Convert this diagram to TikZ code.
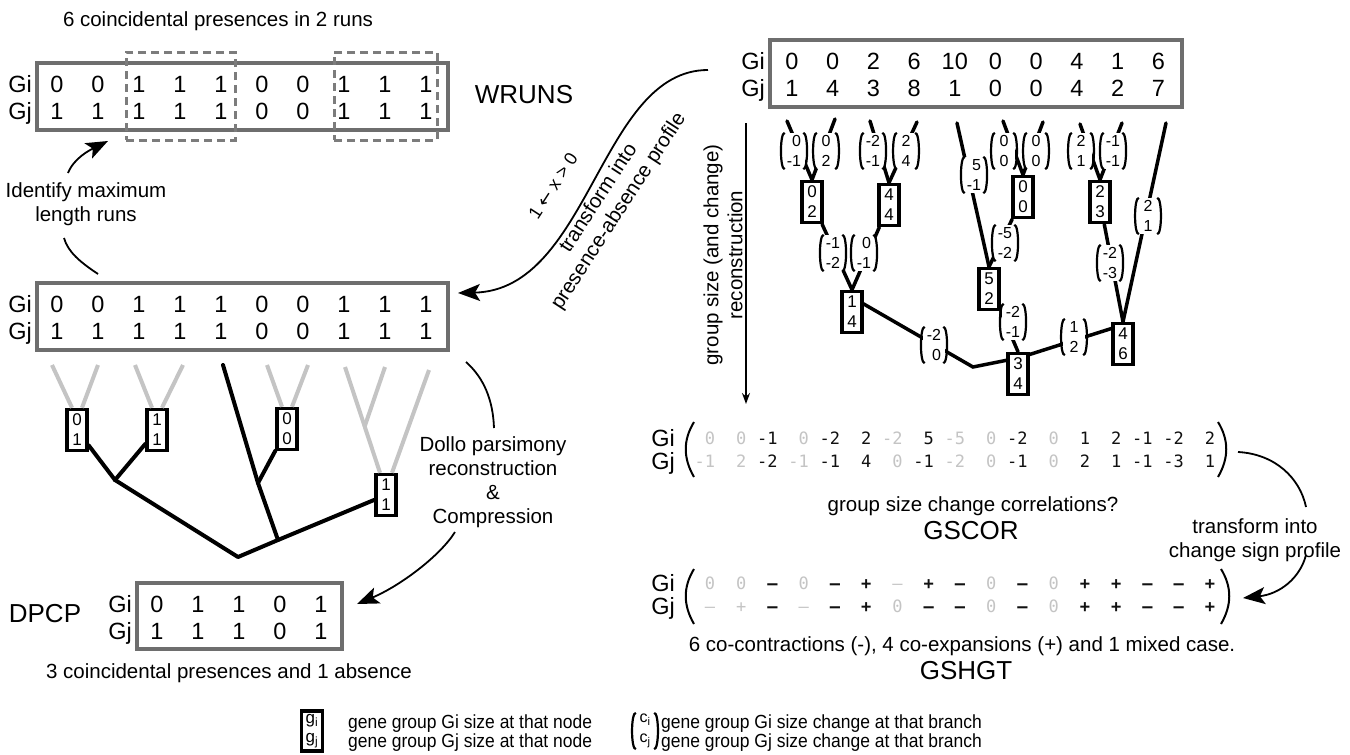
\documentclass[tikz,border=0pt]{standalone}
\usepackage{fontspec}
\setmainfont{Liberation Sans}
\newfontfamily\monof{DejaVu Sans Mono}
\newfontfamily\dejavu{DejaVu Sans}
\newfontfamily\narrowf[FakeStretch=0.92]{Liberation Sans}
\usetikzlibrary{arrows.meta}
\definecolor{boxgray}{HTML}{6E6E6E}
\definecolor{dashgray}{HTML}{7C7C7C}
\definecolor{lgray}{HTML}{C4C4C4}
\definecolor{cg}{HTML}{C4C4C4}
\definecolor{ck}{HTML}{111111}
\newcommand\fs[2]{\fontsize{#1}{#2}\selectfont}
\tikzset{
  tbox/.style={draw=boxgray, line width=3.5pt, inner sep=0pt},
  dbox/.style={draw=dashgray, line width=3pt, dash pattern=on 8pt off 5pt, inner sep=0pt},
  num/.style={font=\fs{23.5}{28}, inner sep=0pt},
  lab/.style={font=\fs{23.5}{28}, inner sep=0pt, anchor=base east},
  txt/.style={font=\fs{20.5}{24}, inner sep=0pt, align=center},
  bigt/.style={font=\fs{26}{30}, inner sep=0pt},
  nbox/.style={draw, line width=3.5pt, fill=white, minimum width=20pt, minimum height=41pt, inner sep=0pt, font=\fs{17}{20}, align=center},
  cv/.style={fill=white, inner xsep=4pt, inner ysep=1pt, minimum width=22pt, minimum height=36pt, font=\fs{16}{20}, align=right},
  pline/.style={line width=2.2pt},
  tblk/.style={line width=4pt, line cap=round, line join=round},
  tgr/.style={line width=4pt, draw=lgray},
  rbr/.style={line width=3.5pt, line cap=round},
  arr/.style={line width=1.8pt, -{Stealth[length=22pt,width=17pt,inset=5pt]}},
  arcl/.style={line width=1.8pt},
  mono/.style={font=\monof\fs{17}{20}, inner sep=0pt},
  legt/.style={font=\narrowf\fs{19}{22}, inner sep=0pt, anchor=base west},
}
\newcommand\cvec[3]{%
  \node[cv] (#1) at (#2) {#3};
  \draw[pline] ([xshift=2pt]#1.north west) .. controls ([xshift=-3pt]#1.north west) and ([xshift=-3pt]#1.south west) .. ([xshift=2pt]#1.south west);
  \draw[pline] ([xshift=-2pt]#1.north east) .. controls ([xshift=3pt]#1.north east) and ([xshift=3pt]#1.south east) .. ([xshift=-2pt]#1.south east);
}
\newcommand\bm[1]{\textbf{#1}}
\begin{document}
\begin{tikzpicture}[x=1pt,y=-1pt]
\path[use as bounding box, fill=white] (0,0) rectangle (1350,755);

% ---------------- WRUNS ----------------
\node[txt] (t1) at (218,21) {6 coincidental presences in 2 runs};
\node[tbox, minimum width=411pt, minimum height=67pt] (wr) at (242.5,96.5) {};
\node[dbox, minimum width=109pt, minimum height=88pt] (run1) at (180.5,96) {};
\node[dbox, minimum width=103pt, minimum height=88pt] (run2) at (385.5,96) {};
\node[lab] (wgi) at (32,92.4) {Gi};
\node[lab] (wgj) at (32,119.4) {Gj};
\foreach \v [count=\i from 0] in {0,0,1,1,1,0,0,1,1,1}
  \node[num] (wa\i) at ({57+41*\i},84) {\v};
\foreach \v [count=\i from 0] in {1,1,1,1,1,0,0,1,1,1}
  \node[num] (wb\i) at ({57+41*\i},111) {\v};
\node[bigt] (wruns) at (524,95) {WRUNS};

% ---------------- presence/absence ----------------
\node[tbox, minimum width=411pt, minimum height=67pt] (pa) at (242.5,316.5) {};
\node[lab] (pgi) at (32,312.4) {Gi};
\node[lab] (pgj) at (32,339.4) {Gj};
\foreach \v [count=\i from 0] in {0,0,1,1,1,0,0,1,1,1}
  \node[num] (pa\i) at ({57+41*\i},304) {\v};
\foreach \v [count=\i from 0] in {1,1,1,1,1,0,0,1,1,1}
  \node[num] (pb\i) at ({57+41*\i},331) {\v};

% identify arrow
\node[txt] (idt) at (86,204) {Identify maximum\\length runs};
\coordinate (ia) at (98,274); \coordinate (ib) at (64,238);
\coordinate (ic) at (68,173); \coordinate (id) at (108,141);
\draw[arcl] (ia) .. controls (80,262) and (68,252) .. (ib);
\draw[arr] (ic) .. controls (74,158) and (90,150) .. (id);

% S-curve from right table
\coordinate (sa) at (708,70); \coordinate (sb) at (458,293);
\draw[arr] (sa) .. controls (600,70) and (590,290) .. (sb);
\node[font=\fs{20.5}{24}, align=center, rotate=57, inner sep=0pt] (trpa) at (609,205) {transform into\\presence-absence profile};
\node[font=\fs{18}{20}, rotate=57, inner sep=0pt] (xgt) at (553,186) {1 {\dejavu ←} x > 0};

% ---------------- left tree ----------------
\node[nbox] (A) at (77,430) {0\\1};
\node[nbox] (B) at (157,430) {1\\1};
\node[nbox] (C) at (287,429) {0\\0};
\node[nbox] (D) at (386,495) {1\\1};
\coordinate (la1) at (52,365); \coordinate (la2) at (98,365);
\coordinate (lb1) at (135,365); \coordinate (lb2) at (183,365);
\coordinate (lc1) at (267,365); \coordinate (lc2) at (308,365);
\coordinate (ld1) at (345,367); \coordinate (ld2) at (429,370); \coordinate (ld3) at (385,367);
\coordinate (ldj) at (364.5,427);
\coordinate (lbl) at (223,365);
\coordinate (ab) at (115,480); \coordinate (ff) at (258,483);
\coordinate (ee) at (278,540); \coordinate (lroot) at (238,557);
\draw[tgr] (la1) -- ([xshift=-5pt]A.north);
\draw[tgr] (la2) -- ([xshift=5pt]A.north);
\draw[tgr] (lb1) -- ([xshift=-5pt]B.north);
\draw[tgr] (lb2) -- ([xshift=5pt]B.north);
\draw[tgr] (lc1) -- ([xshift=-5pt]C.north);
\draw[tgr] (lc2) -- ([xshift=5pt]C.north);
\draw[tgr] (ld1) -- ([xshift=-6pt]D.north);
\draw[tgr] (ld2) -- ([xshift=6pt]D.north);
\draw[tgr] (ld3) -- (ldj);
\draw[tblk] (A) -- (ab);
\draw[tblk] (B) -- (ab);
\draw[tblk] (ab) -- (lroot) -- (ee) -- (D);
\draw[tblk] (lbl) -- (ff) -- (ee);
\draw[tblk] (C) -- (ff);

\node[txt] (dollo) at (493,482) {Dollo parsimony\\reconstruction\\\&\\Compression};
\coordinate (da) at (466,362); \coordinate (db) at (494,428);
\draw[arcl] (da) .. controls (484,378) and (493,400) .. (db);
\coordinate (dc) at (455,532); \coordinate (dd) at (357,604);
\draw[arr] (dc) .. controls (440,556) and (400,586) .. (dd);

% ---------------- DPCP ----------------
\node[bigt] (dpcp) at (45,614) {DPCP};
\node[tbox, minimum width=205pt, minimum height=66pt] (dp) at (239.5,616) {};
\node[lab] (dgi) at (132,612.4) {Gi};
\node[lab] (dgj) at (132,639.4) {Gj};
\foreach \v [count=\i from 0] in {0,1,1,0,1}
  \node[num] (da\i) at ({157+41*\i},604) {\v};
\foreach \v [count=\i from 0] in {1,1,1,0,1}
  \node[num] (db\i) at ({157+41*\i},631) {\v};
\node[txt] (dcap) at (229,673) {3 coincidental presences and 1 absence};

% ---------------- right table ----------------
\node[tbox, minimum width=412pt, minimum height=67pt] (rt) at (976,73.5) {};
\node[lab] (rgi) at (765,69.4) {Gi};
\node[lab] (rgj) at (765,96.4) {Gj};
\foreach \v [count=\i from 0] in {0,0,2,6,10,0,0,4,1,6}
  \node[num] (ra\i) at ({792+40.7*\i},61) {\v};
\foreach \v [count=\i from 0] in {1,4,3,8,1,0,0,4,2,7}
  \node[num] (rb\i) at ({792+40.7*\i},88) {\v};

% vertical arrow
\coordinate (va) at (746,123); \coordinate (vb) at (746,404);
\draw[line width=1.6pt, -{Stealth[length=11pt,width=8pt]}] (va) -- (vb);
\node[txt, rotate=90] (gsr) at (723,255) {group size (and change)\\reconstruction};

% ---------------- right tree ----------------
\node[nbox] (N1) at (812,202) {0\\2};
\node[nbox] (N2) at (889,205) {4\\4};
\node[nbox] (N3) at (1023,197) {0\\0};
\node[nbox] (N4) at (1100,202) {2\\3};
\node[nbox] (N5) at (852,312) {1\\4};
\node[nbox] (N6) at (989,289) {5\\2};
\node[nbox] (N7) at (1018,374) {3\\4};
\node[nbox] (N8) at (1123,344) {4\\6};
\coordinate (L1) at (787,121); \coordinate (L2) at (835,119);
\coordinate (L3) at (870,121); \coordinate (L4) at (917,122);
\coordinate (L5) at (957,123); \coordinate (L6) at (1003,121);
\coordinate (L7) at (1043,122); \coordinate (L8) at (1080,124);
\coordinate (L9) at (1122,123); \coordinate (L10) at (1166,123);
\coordinate (rroot) at (973,367);
\coordinate (n5o) at (862,303); \coordinate (n7w) at (1008,360);
\coordinate (n7o) at (1028,355); \coordinate (n8i) at (1113,328);
\draw[rbr] (L1) -- (N1.north);
\draw[rbr] (L2) -- (N1.north);
\draw[rbr] (L3) -- (N2.north);
\draw[rbr] (L4) -- (N2.north);
\draw[rbr] (L5) -- (N6.north);
\draw[rbr] (L6) -- (N3.north);
\draw[rbr] (L7) -- (N3.north);
\draw[rbr] (L8) -- (N4.north);
\draw[rbr] (L9) -- (N4.north);
\draw[rbr] (L10) -- (N8.north);
\draw[rbr] (N1) -- (N5.north);
\draw[rbr] (N2) -- (N5.north);
\draw[rbr] (N3) -- (N6.north);
\draw[rbr] (N4) -- (N8.north);
\draw[rbr] (N6.south east) -- (N7.north);
\draw[rbr] (n5o) -- (rroot) -- (n7w);
\draw[rbr] (n7o) -- (n8i);
\cvec{P1}{794,151}{0\\-1}
\cvec{P2}{826,151}{0\\2}
\cvec{P3}{873,151}{-2\\-1}
\cvec{P4}{906,151}{2\\4}
\cvec{P5}{974,175}{5\\-1}
\cvec{P6}{1004,151}{0\\0}
\cvec{P7}{1036,151}{0\\0}
\cvec{P8}{1081,151}{2\\1}
\cvec{P9}{1113,151}{-1\\-1}
\cvec{P10}{1148,216}{2\\1}
\cvec{Q1}{833,253}{-1\\-2}
\cvec{Q2}{864,253}{0\\-1}
\cvec{Q3}{1005,243}{-5\\-2}
\cvec{Q4}{1110,263}{-2\\-3}
\cvec{Q5}{1013,322}{-2\\-1}
\cvec{Q6}{934,345}{-2\\0}
\cvec{Q7}{1074,337}{1\\2}

% ---------------- GSCOR ----------------
\node[lab] (cgi) at (675,446.4) {Gi};
\node[lab] (cgj) at (675,469.4) {Gj};
\draw[line width=2pt] (694,422) .. controls (683,440) and (683,458) .. (694,477);
\draw[line width=2pt] (1218,422) .. controls (1229,440) and (1229,458) .. (1218,477);
\foreach \c/\v [count=\i from 0] in {cg/0,cg/0,ck/-1,cg/0,ck/-2,ck/2,cg/-2,ck/5,cg/-5,cg/0,ck/-2,cg/0,ck/1,ck/2,ck/-1,ck/-2,ck/2}
  \node[mono, text=\c, anchor=base east] (ca\i) at ({715.2+31.25*\i},444.2) {\v};
\foreach \c/\v [count=\i from 0] in {cg/-1,cg/2,ck/-2,cg/-1,ck/-1,ck/4,cg/0,ck/-1,cg/-2,cg/0,ck/-1,cg/0,ck/2,ck/1,ck/-1,ck/-3,ck/1}
  \node[mono, text=\c, anchor=base east] (cb\i) at ({715.2+31.25*\i},467.2) {\v};
\node[txt] (gscq) at (973,506) {group size change correlations?};
\node[bigt] (gscor) at (971,531) {GSCOR};

% arrow to GSHGT
\coordinate (r1) at (1238,452); \coordinate (r2) at (1306,507);
\draw[arcl] (r1) .. controls (1275,454) and (1300,478) .. (r2);
\node[txt] (tics) at (1255,540) {transform into\\change sign profile};
\coordinate (r3) at (1306,555); \coordinate (r4) at (1243,598);
\draw[arr] (r3) .. controls (1300,578) and (1280,594) .. (r4);

% ---------------- GSHGT ----------------
\node[lab] (hgi) at (675,591.4) {Gi};
\node[lab] (hgj) at (675,614.4) {Gj};
\draw[line width=2pt] (694,569) .. controls (683,587) and (683,605) .. (694,624);
\draw[line width=2pt] (1221,569) .. controls (1232,587) and (1232,605) .. (1221,624);
\foreach \c/\v [count=\i from 0] in {cg/0,cg/0,ck/\bm{–},cg/0,ck/\bm{–},ck/\bm{+},cg/–,ck/\bm{+},ck/\bm{–},cg/0,ck/\bm{–},cg/0,ck/\bm{+},ck/\bm{+},ck/\bm{–},ck/\bm{–},ck/\bm{+}}
  \node[mono, text=\c, anchor=base] (ha\i) at ({710+31.25*\i},589.2) {\v};
\foreach \c/\v [count=\i from 0] in {cg/–,cg/+,ck/\bm{–},cg/–,ck/\bm{–},ck/\bm{+},cg/0,ck/\bm{–},ck/\bm{–},cg/0,ck/\bm{–},cg/0,ck/\bm{+},ck/\bm{+},ck/\bm{–},ck/\bm{–},ck/\bm{+}}
  \node[mono, text=\c, anchor=base] (hb\i) at ({710+31.25*\i},612.2) {\v};
\node[txt] (gshc) at (962,646) {6 co-contractions (-), 4 co-expansions (+) and 1 mixed case.};
\node[bigt] (gshgt) at (966,671) {GSHGT};

% ---------------- legend ----------------
\node[nbox, minimum height=40pt, minimum width=21pt, font=\fs{17}{19}] (lgb) at (312,731) {g\textsubscript{i}\\g\textsubscript{j}};
\node[legt] (lg1) at (348,728) {gene group Gi size at that node};
\node[legt] (lg2) at (348,747) {gene group Gj size at that node};
\cvec{lgc}{645,731}{c\textsubscript{i}\\c\textsubscript{j}}
\node[legt] (lg3) at (661,728) {gene group Gi size change at that branch};
\node[legt] (lg4) at (661,747) {gene group Gj size change at that branch};
\end{tikzpicture}
\end{document}
